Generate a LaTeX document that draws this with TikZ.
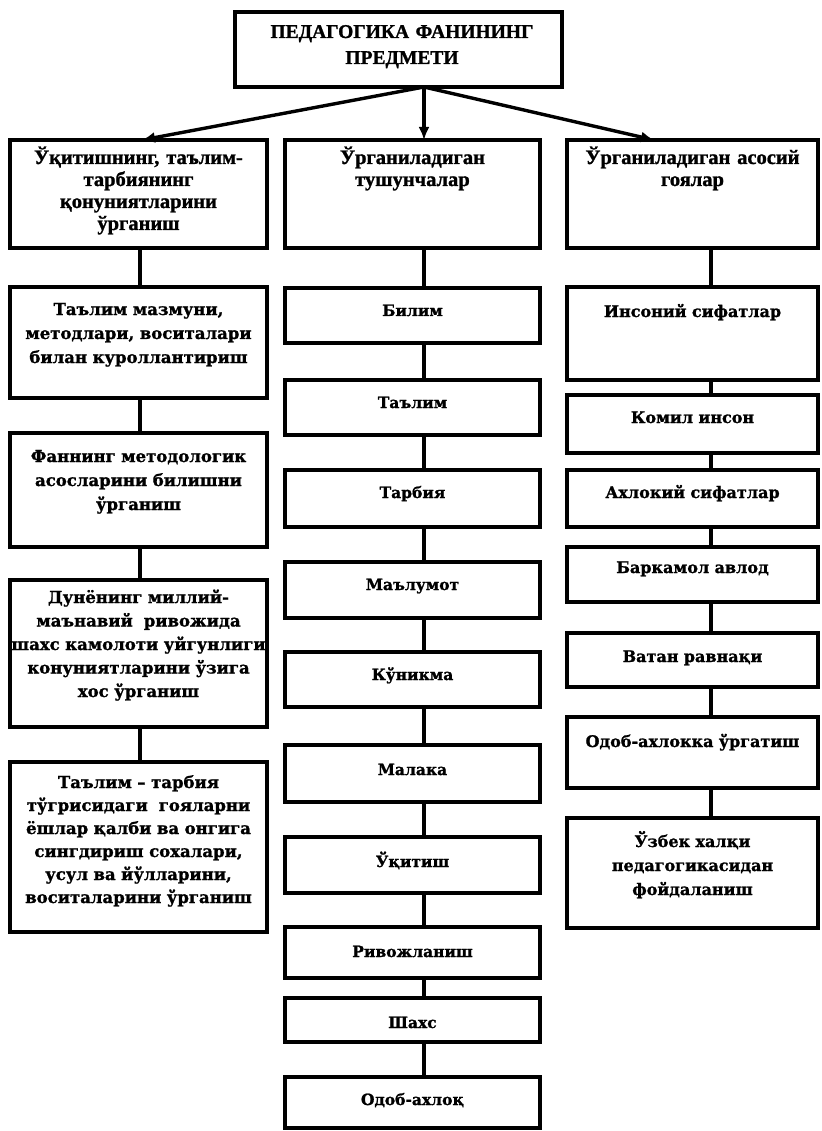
\documentclass[tikz,border=0pt]{standalone}
\usepackage{fontspec}
\setmainfont{Liberation Serif}[BoldFeatures={FakeBold=1.2}]
\newfontfamily\dvs{DejaVu Serif}[BoldFeatures={FakeBold=1.2}]
\usetikzlibrary{arrows.meta}
\newcommand\mybox[5]{\node[box, minimum width={#4-#2}, minimum height={#5-#3}] (#1) at (#2,#3) {};}
\begin{document}
\begin{tikzpicture}[x=1pt,y=-1pt,
  box/.style={draw, line width=3.4pt, inner sep=0pt, outer sep=0pt, anchor=north west},
  conn/.style={line width=3.4pt},
  arr/.style={line width=3.4pt, -{Latex[length=13pt,width=11pt]}},
  ttl/.style={anchor=base, inner sep=0pt, align=center, text width=320pt, font=\bfseries\fontsize{19.5}{26}\selectfont},
  rowa/.style={anchor=base, inner sep=0pt, align=center, text width=252pt, font=\bfseries\fontsize{20.5}{22}\selectfont},
  lft/.style={anchor=base, inner sep=0pt, align=center, text width=256pt, font=\dvs\bfseries\fontsize{16.5}{#1}\selectfont},
  lft/.default=24,
  mid/.style={anchor=base, inner sep=0pt, align=center, text width=245pt, font=\dvs\bfseries\fontsize{15.5}{20}\selectfont},
  rgt/.style={anchor=base, inner sep=0pt, align=center, text width=245pt, font=\dvs\bfseries\fontsize{16}{24}\selectfont}
]
\useasboundingbox (0,0) rectangle (821,1131);

% boxes
\mybox{T}{235}{12}{562}{87}
\mybox{L1}{10}{140}{267}{248}
\mybox{M1}{285}{140}{540}{248}
\mybox{R1}{567}{140}{818}{248}

\mybox{L2}{10}{287}{267}{398}
\mybox{L3}{10}{433}{267}{547}
\mybox{L4}{10}{580}{267}{727}
\mybox{L5}{10}{762}{267}{932}

\mybox{M2}{285}{288}{540}{343}
\mybox{M3}{285}{380}{540}{435}
\mybox{M4}{285}{470}{540}{527}
\mybox{M5}{285}{562}{540}{618}
\mybox{M6}{285}{652}{540}{707}
\mybox{M7}{285}{745}{540}{802}
\mybox{M8}{285}{837}{540}{893}
\mybox{M9}{285}{927}{540}{978}
\mybox{M10}{285}{998}{540}{1042}
\mybox{M11}{285}{1077}{540}{1128}

\mybox{R2}{567}{287}{818}{380}
\mybox{R3}{567}{395}{818}{453}
\mybox{R4}{567}{470}{818}{527}
\mybox{R5}{567}{547}{818}{602}
\mybox{R6}{567}{633}{818}{687}
\mybox{R7}{567}{717}{818}{788}
\mybox{R8}{567}{818}{818}{928}

% connector reference coordinates
\coordinate (xl) at (140,0);
\coordinate (xm) at (424,0);
\coordinate (xr) at (711,0);
\coordinate (tipL) at (142,0);
\coordinate (tipR) at (654,0);

% arrows from title
\draw[arr] (T.south -| xm) -- (L1.north -| tipL);
\draw[arr] (T.south -| xm) -- (M1.north -| xm);
\draw[arr] (T.south -| xm) -- (R1.north -| tipR);

% vertical connectors
\foreach \a/\b in {L1/L2,L2/L3,L3/L4,L4/L5}
  \draw[conn] (\a.south -| xl) -- (\b.north -| xl);
\foreach \a/\b in {M1/M2,M2/M3,M3/M4,M4/M5,M5/M6,M6/M7,M7/M8,M8/M9,M9/M10,M10/M11}
  \draw[conn] (\a.south -| xm) -- (\b.north -| xm);
\foreach \a/\b in {R1/R2,R2/R3,R3/R4,R4/R5,R5/R6,R6/R7,R7/R8}
  \draw[conn] (\a.south -| xr) -- (\b.north -| xr);

% texts
\node[ttl] (tT) at (402,38) {ПЕДАГОГИКА ФАНИНИНГ\\ПРЕДМЕТИ};
\node[rowa] (tL1) at (138.5,164) {Ўқитишнинг, таълим-\\тарбиянинг\\қонуниятларини\\ўрганиш};
\node[rowa] (tM1) at (412.5,164) {Ўрганиладиган\\тушунчалар};
\node[rowa] (tR1) at (692.5,164) {Ўрганиладиган асосий\\гоялар};

\node[lft] (tL2) at (138.5,315) {Таълим мазмуни,\\методлари, воситалари\\билан куроллантириш};
\node[lft] (tL3) at (138.5,462) {Фаннинг методологик\\асосларини билишни\\ўрганиш};
\node[lft=23.5] (tL4) at (138.5,603) {Дунёнинг миллий-\\маънавий\ \ ривожида\\шахс камолоти уйгунлиги\\конуниятларини ўзига\\хос ўрганиш};
\node[lft=23] (tL5) at (138.5,788) {Таълим – тарбия\\тўгрисидаги\ \ гояларни\\ёшлар қалби ва онгига\\сингдириш сохалари,\\усул ва йўлларини,\\воситаларини ўрганиш};

\node[mid] (tM2) at (412.5,316) {Билим};
\node[mid] (tM3) at (412.5,408) {Таълим};
\node[mid] (tM4) at (412.5,498) {Тарбия};
\node[mid] (tM5) at (412.5,590) {Маълумот};
\node[mid] (tM6) at (412.5,680) {Кўникма};
\node[mid] (tM7) at (412.5,775) {Малака};
\node[mid] (tM8) at (412.5,867) {Ўқитиш};
\node[mid] (tM9) at (412.5,957) {Ривожланиш};
\node[mid] (tM10) at (412.5,1028) {Шахс};
\node[mid] (tM11) at (412.5,1105) {Одоб-ахлоқ};

\node[rgt] (tR2) at (692.5,317) {Инсоний сифатлар};
\node[rgt] (tR3) at (692.5,423) {Комил инсон};
\node[rgt] (tR4) at (692.5,498) {Ахлокий сифатлар};
\node[rgt] (tR5) at (692.5,573) {Баркамол авлод};
\node[rgt] (tR6) at (692.5,662) {Ватан равнақи};
\node[rgt] (tR7) at (692.5,747) {Одоб-ахлокка ўргатиш};
\node[rgt] (tR8) at (692.5,847) {Ўзбек халқи\\педагогикасидан\\фойдаланиш};
\end{tikzpicture}
\end{document}
